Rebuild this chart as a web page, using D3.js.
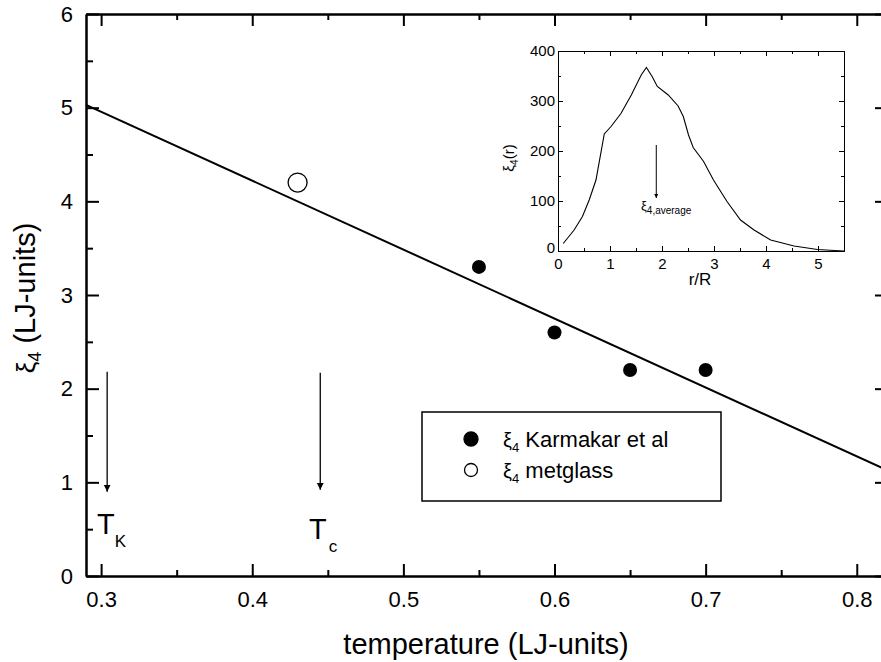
<!DOCTYPE html>
<html>
<head>
  <meta charset="utf-8">
  <script src="https://d3js.org/d3.v7.min.js"></script>
  <style>
    body { margin: 0; background: #fff; }
    svg text { font-family: Arial, "Liberation Sans", sans-serif; fill: #000; }
    .axis path, .axis line { stroke: #000; }
  </style>
</head>
<body>
<div id="chart"></div>
<script>
// main panel data
var karmakarT = [0.55, 0.60, 0.65, 0.70];
var karmakarXi = [3.3, 2.6, 2.2, 2.2];
var metglassT = [0.43];
var metglassXi = [4.2];
var fitT = [0.29, 0.82];
var fitXi = [5.03, 1.13];
var xTicks = [0.3, 0.4, 0.5, 0.6, 0.7, 0.8];
var yTicks = [0, 1, 2, 3, 4, 5, 6];
// arrows for T_K and T_c (x position, start y, end y)
var arrowT = [0.304, 0.445];
var arrowTop = [2.18, 2.17];
var arrowBottom = [0.9, 0.92];

// inset data: xi_4(r) vs r/R
var insetR = [0.1, 0.31, 0.47, 0.6, 0.73, 0.89, 1.02, 1.21, 1.41, 1.6, 1.7, 1.81, 1.91, 2.12, 2.31, 2.41, 2.51, 2.6, 2.8, 2.99, 3.25, 3.51, 3.77, 4.09, 4.54, 4.99, 5.32, 5.5];
var insetXi = [15, 42, 69, 102, 142, 234, 249, 275, 312, 352, 367, 349, 329, 312, 290, 269, 232, 207, 179, 142, 99, 62, 42, 22, 10, 3, 1, 0];
var insetXTicks = [0, 1, 2, 3, 4, 5];
var insetYTicks = [0, 100, 200, 300, 400];
var avgR = 1.89;
var avgTop = 212, avgBottom = 106;

var svg = d3.select("#chart").append("svg")
  .attr("width", 881).attr("height", 662);

var x = d3.scaleLinear().domain([0.29, 0.82]).range([86, 887]);
var y = d3.scaleLinear().domain([0, 6]).range([576, 14]);

var xMinor = d3.range(0.3, 0.83, 0.05).map(function (d) { return +d.toFixed(2); })
  .filter(function (d) { return xTicks.indexOf(d) < 0; });
var yMinor = [0.5, 1.5, 2.5, 3.5, 4.5, 5.5];

function drawAxis(axis, tx, ty) {
  var g = svg.append("g").attr("class", "axis")
    .attr("transform", "translate(" + tx + "," + ty + ")")
    .call(axis);
  g.selectAll("path, line").attr("stroke-width", 2);
  return g;
}

// bottom
var gb = drawAxis(d3.axisBottom(x).tickValues(xTicks).tickSize(-12).tickSizeOuter(0).tickPadding(15).tickFormat(d3.format(".1f")), 0, 576);
gb.selectAll("text").style("font-size", "22px");
drawAxis(d3.axisBottom(x).tickValues(xMinor).tickSize(-6).tickSizeOuter(0).tickFormat(""), 0, 576);
// top
drawAxis(d3.axisTop(x).tickValues(xTicks).tickSize(-12).tickSizeOuter(0).tickFormat(""), 0, 14);
drawAxis(d3.axisTop(x).tickValues(xMinor).tickSize(-6).tickSizeOuter(0).tickFormat(""), 0, 14);
// left
var gl = drawAxis(d3.axisLeft(y).tickValues(yTicks).tickSize(-13).tickSizeOuter(0).tickPadding(13).tickFormat(d3.format("d")), 86, 0);
gl.selectAll("text").style("font-size", "22px");
drawAxis(d3.axisLeft(y).tickValues(yMinor).tickSize(-7).tickSizeOuter(0).tickFormat(""), 86, 0);
// right
drawAxis(d3.axisRight(y).tickValues(yTicks).tickSize(-12).tickSizeOuter(0).tickFormat(""), 887, 0);
drawAxis(d3.axisRight(y).tickValues(yMinor).tickSize(-6).tickSizeOuter(0).tickFormat(""), 887, 0);

svg.selectAll(".axis .domain").attr("fill", "none");

// axis titles
svg.append("text")
  .attr("x", 486).attr("y", 654)
  .attr("text-anchor", "middle")
  .style("font-size", "29px")
  .text("temperature (LJ-units)");

var yt = svg.append("text")
  .attr("transform", "translate(35,298) rotate(-90)")
  .attr("text-anchor", "middle")
  .style("font-size", "29px");
yt.append("tspan").style("font-size", "26px").text("ξ");
yt.append("tspan").attr("dy", 6).style("font-size", "18px").text("4");
yt.append("tspan").attr("dy", -6).text(" (LJ-units)");

// fitted line
var line = d3.line()
  .x(function (d) { return x(d[0]); })
  .y(function (d) { return y(d[1]); });
svg.append("path")
  .datum(d3.zip(fitT, fitXi))
  .attr("d", line)
  .attr("fill", "none").attr("stroke", "#000").attr("stroke-width", 2);

// points
svg.selectAll("circle.karm")
  .data(d3.zip(karmakarT, karmakarXi))
  .enter().append("circle")
  .attr("class", "karm")
  .attr("cx", function (d) { return x(d[0]); })
  .attr("cy", function (d) { return y(d[1]); })
  .attr("r", 7).attr("fill", "#000");

svg.selectAll("circle.met")
  .data(d3.zip(metglassT, metglassXi))
  .enter().append("circle")
  .attr("class", "met")
  .attr("cx", function (d) { return x(d[0]); })
  .attr("cy", function (d) { return y(d[1]); })
  .attr("r", 9.5).attr("fill", "#fff").attr("stroke", "#000").attr("stroke-width", 1.3);

// arrow markers
var defs = svg.append("defs");
defs.append("marker").attr("id", "ah")
  .attr("viewBox", "0 0 10 10").attr("refX", 10).attr("refY", 5)
  .attr("markerWidth", 7).attr("markerHeight", 10).attr("markerUnits", "userSpaceOnUse")
  .attr("orient", "auto")
  .append("path").attr("d", "M0,0 L10,5 L0,10 z").attr("fill", "#000");
defs.append("marker").attr("id", "ahs")
  .attr("viewBox", "0 0 10 10").attr("refX", 10).attr("refY", 5)
  .attr("markerWidth", 5).attr("markerHeight", 4).attr("markerUnits", "userSpaceOnUse")
  .attr("orient", "auto")
  .append("path").attr("d", "M0,0 L10,5 L0,10 z").attr("fill", "#000");

arrowT.forEach(function (t, i) {
  svg.append("line")
    .attr("x1", x(t)).attr("x2", x(t))
    .attr("y1", y(arrowTop[i])).attr("y2", y(arrowBottom[i]))
    .attr("stroke", "#000").attr("stroke-width", 1.3)
    .attr("marker-end", "url(#ah)");
});

var tk = svg.append("text").attr("x", 97).attr("y", 534).style("font-size", "29px");
tk.append("tspan").text("T");
tk.append("tspan").attr("dy", 13).style("font-size", "17px").text("K");
var tc = svg.append("text").attr("x", 309).attr("y", 539).style("font-size", "29px");
tc.append("tspan").text("T");
tc.append("tspan").attr("dy", 13).attr("dx", 2).style("font-size", "17px").text("c");

// legend
var legendItems = ["Karmakar et al", "metglass"];
var lg = svg.append("g");
lg.append("rect").attr("x", 422).attr("y", 412).attr("width", 299).attr("height", 89)
  .attr("fill", "#fff").attr("stroke", "#000").attr("stroke-width", 1.5);
legendItems.forEach(function (name, i) {
  var cy = 439 + i * 31;
  lg.append("circle").attr("cx", 471).attr("cy", cy).attr("r", i === 0 ? 7 : 6.5)
    .attr("fill", i === 0 ? "#000" : "#fff").attr("stroke", "#000").attr("stroke-width", 1.3);
  var t = lg.append("text").attr("x", 503).attr("y", cy + 8).style("font-size", "22px");
  t.append("tspan").style("font-size", "20px").text("ξ");
  t.append("tspan").attr("dy", 5).style("font-size", "13px").text("4");
  t.append("tspan").attr("dy", -5).text(" " + name);
});

// inset
var ix = d3.scaleLinear().domain([0, 5.5]).range([558, 844]);
var iy = d3.scaleLinear().domain([0, 400]).range([251, 51]);
var ixMinor = [0.5, 1.5, 2.5, 3.5, 4.5];
var iyMinor = [50, 150, 250, 350];

function insetAxis(axis, tx, ty) {
  var g = svg.append("g").attr("class", "axis")
    .attr("transform", "translate(" + tx + "," + ty + ")")
    .call(axis);
  g.selectAll("path, line").attr("stroke-width", 1);
  g.select(".domain").attr("fill", "none");
  return g;
}
var ib = insetAxis(d3.axisBottom(ix).tickValues(insetXTicks).tickSize(-5).tickSizeOuter(0).tickPadding(7).tickFormat(d3.format("d")), 0, 251);
ib.selectAll("text").style("font-size", "15px");
insetAxis(d3.axisBottom(ix).tickValues(ixMinor).tickSize(-3).tickSizeOuter(0).tickFormat(""), 0, 251);
insetAxis(d3.axisTop(ix).tickValues(insetXTicks).tickSize(-5).tickSizeOuter(0).tickFormat(""), 0, 51);
insetAxis(d3.axisTop(ix).tickValues(ixMinor).tickSize(-3).tickSizeOuter(0).tickFormat(""), 0, 51);
var il = insetAxis(d3.axisLeft(iy).tickValues(insetYTicks).tickSize(-5).tickSizeOuter(0).tickPadding(3).tickFormat(d3.format("d")), 558, 0);
il.selectAll("text").style("font-size", "15px");
il.selectAll(".tick text").filter(function (d) { return d === 0; }).attr("dy", "0.1em");
insetAxis(d3.axisLeft(iy).tickValues(iyMinor).tickSize(-3).tickSizeOuter(0).tickFormat(""), 558, 0);
insetAxis(d3.axisRight(iy).tickValues(insetYTicks).tickSize(-5).tickSizeOuter(0).tickFormat(""), 844, 0);
insetAxis(d3.axisRight(iy).tickValues(iyMinor).tickSize(-3).tickSizeOuter(0).tickFormat(""), 844, 0);

svg.append("path")
  .datum(d3.zip(insetR, insetXi))
  .attr("d", d3.line().x(function (d) { return ix(d[0]); }).y(function (d) { return iy(d[1]); }))
  .attr("fill", "none").attr("stroke", "#000").attr("stroke-width", 1.1);

svg.append("line")
  .attr("x1", ix(avgR)).attr("x2", ix(avgR))
  .attr("y1", iy(avgTop)).attr("y2", iy(avgBottom))
  .attr("stroke", "#000").attr("stroke-width", 1)
  .attr("marker-end", "url(#ahs)");

var av = svg.append("text").attr("x", 641).attr("y", 210).style("font-size", "13px");
av.append("tspan").text("ξ");
av.append("tspan").attr("dy", 4).style("font-size", "10px").text("4,average");

svg.append("text").attr("x", 700).attr("y", 285).attr("text-anchor", "middle")
  .style("font-size", "17px").text("r/R");

var iyt = svg.append("text")
  .attr("transform", "translate(514,158) rotate(-90)")
  .attr("text-anchor", "middle")
  .style("font-size", "15px");
iyt.append("tspan").text("ξ");
iyt.append("tspan").attr("dy", 4).style("font-size", "10px").text("4");
iyt.append("tspan").attr("dy", -4).text("(r)");
</script>
</body>
</html>
